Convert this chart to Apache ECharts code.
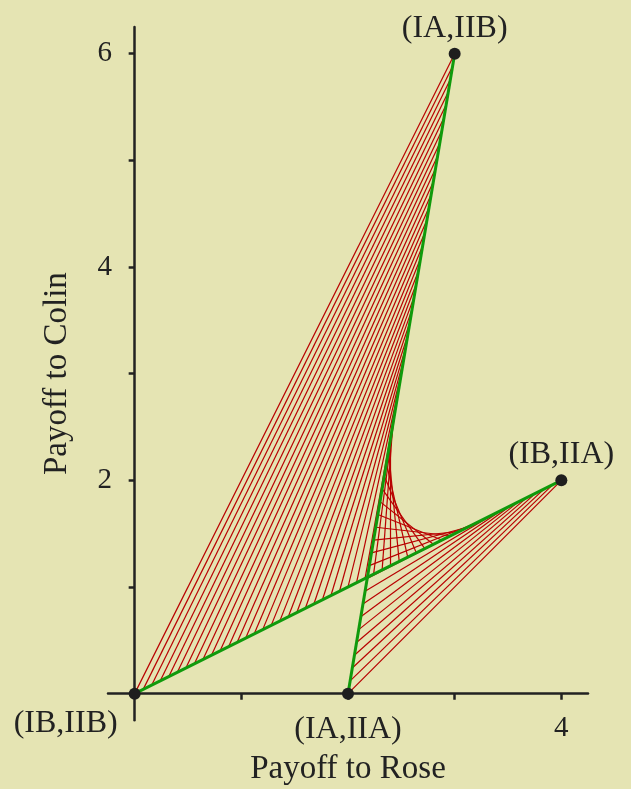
<!DOCTYPE html>
<html>
<head>
<meta charset="utf-8">
<script src="https://cdn.jsdelivr.net/npm/echarts@6/dist/echarts.min.js"></script>
<style>
html,body{margin:0;padding:0;background:#E5E4B3;}
#c{width:631px;height:789px;}
</style>
</head>
<body>
<div id="c"></div>
<script>
// Outcome points (Rose payoff, Colin payoff)
var pointNames = ['(IB,IIB)', '(IA,IIA)', '(IA,IIB)', '(IB,IIA)'];
var pointX = [0, 2, 3, 4];
var pointY = [0, 0, 6, 2];
// Green boundary segments: indices into the points
var greenSegments = [[0, 3], [1, 2]];
// Red ruling: lines join matching fractions of segment (IB,IIB)->(IB,IIA) and (IA,IIB)->(IA,IIA)
var rulingFrom = [0, 3];
var rulingTo = [2, 1];
var rulingSteps = 50;
// Axis ticks and labels
var xTicks = [1, 2, 3, 4];
var xTickLabels = [4];
var yTicks = [1, 2, 3, 4, 5, 6];
var yTickLabels = [2, 4, 6];

var FONT = '"Liberation Serif", "DejaVu Serif", serif';
var INK = '#222222';

function P(i) { return [pointX[i], pointY[i]]; }
function mix(a, b, t) { return [a[0] + (b[0] - a[0]) * t, a[1] + (b[1] - a[1]) * t]; }

var redData = [];
for (var k = 0; k <= rulingSteps; k++) {
  var t = k / rulingSteps;
  redData.push({ coords: [mix(P(rulingFrom[0]), P(rulingFrom[1]), t), mix(P(rulingTo[0]), P(rulingTo[1]), t)] });
}
var greenData = greenSegments.map(function (s) { return { coords: [P(s[0]), P(s[1])] }; });

var labelPlace = [
  { position: 'left', offset: [-6, 30] },
  { position: 'bottom', offset: [0, 9] },
  { position: 'top', offset: [0, 2] },
  { position: 'top', offset: [0, 1] }
];
var scatterData = pointNames.map(function (n, i) {
  return { name: n, value: P(i), label: labelPlace[i] };
});

var chart = echarts.init(document.getElementById('c'), null, { renderer: 'canvas' });
chart.setOption({
  backgroundColor: '#E5E4B3',
  animation: false,
  grid: { left: 108, top: 27, width: 480, height: 693.3, containLabel: false, outerBoundsMode: 'none' },
  xAxis: {
    type: 'value', min: -0.25, max: 4.25,
    splitLine: { show: false },
    axisLine: { onZero: true, lineStyle: { color: INK, width: 2.5 } },
    axisTick: { show: true, length: 6, customValues: xTicks, lineStyle: { color: INK, width: 2.5 } },
    axisLabel: { customValues: xTickLabels, color: INK, fontFamily: FONT, fontSize: 29, margin: -6 },
    name: 'Payoff to Rose', nameLocation: 'middle', nameGap: 33,
    nameTextStyle: { color: INK, fontFamily: FONT, fontSize: 33 }
  },
  yAxis: {
    type: 'value', min: -0.25, max: 6.25,
    splitLine: { show: false },
    axisLine: { onZero: true, lineStyle: { color: INK, width: 2.5 } },
    axisTick: { show: true, length: 6, customValues: yTicks, lineStyle: { color: INK, width: 2.5 } },
    axisLabel: { customValues: yTickLabels, color: INK, fontFamily: FONT, fontSize: 29, margin: -4 },
    name: 'Payoff to Colin', nameLocation: 'middle', nameGap: 34, nameRotate: 90,
    nameTextStyle: { color: INK, fontFamily: FONT, fontSize: 33 }
  },
  series: [
    {
      type: 'lines', coordinateSystem: 'cartesian2d', silent: true, z: 2,
      lineStyle: { color: '#B80000', width: 1.2, opacity: 1 },
      data: redData
    },
    {
      type: 'lines', coordinateSystem: 'cartesian2d', silent: true, z: 3,
      lineStyle: { color: '#109A0C', width: 3, opacity: 1 },
      data: greenData
    },
    {
      type: 'scatter', z: 4, symbolSize: 12,
      itemStyle: { color: '#1E1E1E', opacity: 1 },
      label: { show: true, formatter: '{b}', color: INK, opacity: 1, fontFamily: FONT, fontSize: 32 },
      data: scatterData
    }
  ]
});
</script>
</body>
</html>
